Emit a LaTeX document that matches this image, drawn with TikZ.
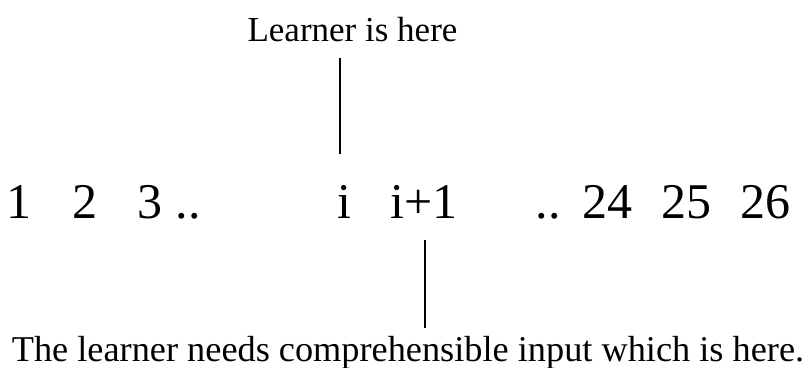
\documentclass[tikz,border=0pt]{standalone}
\usepackage{fontspec}
\setmainfont{Liberation Serif}
\begin{document}
\begin{tikzpicture}[x=1pt,y=-1pt,
  num/.style={anchor=base,inner sep=0pt,font=\fontsize{50}{56}\selectfont},
  lbl/.style={anchor=base,inner sep=0pt,font=\fontsize{35}{40}\selectfont},
  lbltwo/.style={anchor=base,inner sep=0pt,font=\fontsize{36.3}{40}\selectfont},
  conn/.style={draw=black,line width=1.1pt}]
\useasboundingbox[fill=white] (0,0) rectangle (808,367);
\node[lbl] (top) at (352.5,41) {Learner is here};
\node[num] (n1) at (18.5,218) {1};
\node[num] (n2) at (84.5,218) {2};
\node[num] (n3) at (149.5,218) {3};
\node[num] (d1) at (188,218) {..};
\node[num] (ni) at (344.5,218) {i};
\node[num] (nip) at (424,218) {i+1};
\node[num] (d2) at (548,218) {..};
\node[num] (n24) at (607.5,218) {24};
\node[num] (n25) at (686.5,218) {25};
\node[num] (n26) at (765,218) {26};
\node[lbltwo] (bot) at (408,361) {The learner needs comprehensible input which is here.};
\coordinate (a1) at (340,58);
\coordinate (a2) at (340,154);
\coordinate (b1) at (425,240);
\coordinate (b2) at (425,328);
\draw[conn] (a1) -- (a2);
\draw[conn] (b1) -- (b2);
\end{tikzpicture}
\end{document}
